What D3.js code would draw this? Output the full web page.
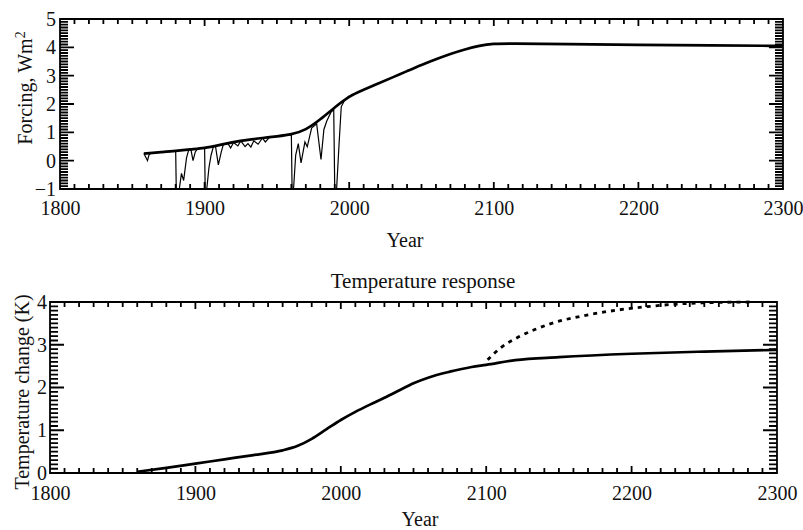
<!DOCTYPE html>
<html>
<head>
<meta charset="utf-8">
<script src="https://cdn.jsdelivr.net/npm/d3@7"></script>
<style>
  body { margin: 0; background: #fff; }
  svg text { font-family: "Liberation Serif", "DejaVu Serif", serif; fill: #111; }
</style>
</head>
<body>
<svg id="chart" width="803" height="530"></svg>
<script>
// tick labels
const xTickYears = [1800, 1900, 2000, 2100, 2200, 2300];
const forcingTicks = [-1, 0, 1, 2, 3, 4, 5];
const tempTicks = [0, 1, 2, 3, 4];

// radiative forcing, smooth total (W/m2)
const forcingYears = [1858, 1870, 1880, 1890, 1900, 1910, 1920, 1930, 1940, 1950, 1960, 1970, 1980, 1990, 2000,
  2010, 2020, 2030, 2040, 2050, 2060, 2070, 2080, 2090, 2100, 2110, 2150, 2200, 2250, 2300];
const forcingTotal = [0.25, 0.3, 0.34, 0.4, 0.44, 0.55, 0.66, 0.74, 0.8, 0.86, 0.92, 1.08, 1.45, 1.88, 2.28,
  2.5, 2.72, 2.94, 3.16, 3.38, 3.58, 3.77, 3.93, 4.06, 4.13, 4.14, 4.11, 4.09, 4.07, 4.05];

// forcing including volcanic eruptions (thin line)
const volcYears = [1858, 1859.5, 1860.5, 1861.5, 1863, 1870, 1880, 1880.4, 1882.5, 1884, 1885.5, 1887.5, 1889,
  1890.5, 1892, 1893.5, 1895, 1900, 1900.4, 1901.5, 1903, 1904.5, 1906, 1907.5, 1909.5, 1911.5, 1913, 1916,
  1918, 1920, 1923, 1925, 1928, 1930, 1932, 1934, 1937, 1940, 1942, 1945, 1950, 1955, 1960, 1960.5, 1961.5,
  1963, 1964.8, 1966.7, 1969.4, 1971, 1974, 1977.5, 1980.5, 1982.5, 1984.5, 1987.5, 1989.3, 1990, 1991.3,
  1993, 1994.5, 1997, 2000];
const volcForcing = [0.25, 0.1, 0.0, 0.2, 0.27, 0.3, 0.34, -1, -1, -0.45, -0.7, 0.1, 0.38,
  0.4, 0.0, 0.3, 0.42, 0.44, -1, -1, -0.25, 0.2, 0.48, 0.52, -0.15, 0.3, 0.58, 0.62,
  0.45, 0.64, 0.52, 0.7, 0.5, 0.6, 0.48, 0.7, 0.58, 0.8, 0.66, 0.83, 0.86, 0.88, 0.92, -1, -1,
  0.2, 0.6, -0.08, 0.66, 0.49, 1.15, 1.3, 0.04, 1.1, 1.4, 1.72, 1.8, -1, -1,
  0.6, 1.9, 2.15, 2.28];

// temperature response (K)
const tempYears = [1860, 1880, 1900, 1920, 1940, 1960, 1970, 1980, 1990, 2000, 2010, 2020, 2030, 2040, 2050,
  2060, 2075, 2090, 2100, 2120, 2150, 2200, 2250, 2300];
const tempChange = [0.03, 0.12, 0.22, 0.32, 0.42, 0.53, 0.63, 0.8, 1.02, 1.24, 1.43, 1.6, 1.76, 1.93, 2.1,
  2.23, 2.37, 2.48, 2.53, 2.64, 2.71, 2.79, 2.84, 2.88];

// equilibrium approach after 2100 (dashed)
const commitYears = [2101, 2110, 2121, 2133, 2144, 2167, 2190, 2213, 2235, 2259, 2282];
const commitTemp = [2.65, 2.93, 3.16, 3.35, 3.49, 3.68, 3.81, 3.9, 3.96, 3.99, 4.0];

const svg = d3.select("#chart");
const fontSize = 20;
const ink = "#000";

function drawPanel(p) {
  const x = d3.scaleLinear().domain([1800, 2300]).range([p.left, p.right]);
  const y = d3.scaleLinear().domain(p.domain).range([p.bottom, p.top]);
  const g = svg.append("g");

  const minorY = d3.range(p.domain[0], p.domain[1] + 0.001, 0.1).map(v => +v.toFixed(1));
  const decades = d3.range(1800, 2301, 10);

  // labels from d3 axes
  g.append("g")
    .attr("transform", `translate(0,${p.bottom})`)
    .call(d3.axisBottom(x).tickValues(xTickYears).tickSize(0).tickPadding(p.labelPad)
      .tickFormat(d3.format("d")));
  g.append("g")
    .attr("transform", `translate(${p.left},0)`)
    .call(d3.axisLeft(y).tickValues(p.ticks).tickSize(0).tickPadding(p.yPad)
      .tickFormat(d => d < 0 ? "\u2212" + Math.abs(d) : d));
  g.selectAll(".domain, .tick line").remove();
  g.selectAll(".tick text").attr("font-size", fontSize).attr("fill", "#111")
    .style("font-family", '"Liberation Serif", serif');

  // frame and all inward tick marks in one path
  const frame = d3.path();
  frame.rect(p.left, p.top, p.right - p.left, p.bottom - p.top);
  decades.forEach(d => {
    const len = d % 100 === 0 ? 7 : 5;
    frame.moveTo(x(d), p.bottom); frame.lineTo(x(d), p.bottom - len);
    frame.moveTo(x(d), p.top); frame.lineTo(x(d), p.top + len);
  });
  minorY.forEach(d => {
    const len = p.ticks.includes(d) ? 14 : 8;
    frame.moveTo(p.left, y(d)); frame.lineTo(p.left + len, y(d));
    frame.moveTo(p.right, y(d)); frame.lineTo(p.right - len, y(d));
  });
  g.append("path")
    .attr("d", frame.toString())
    .attr("fill", "none").attr("stroke", ink).attr("stroke-width", 1.8);

  return { g, x, y };
}

// ---- forcing panel ----
const forcingPanel = drawPanel({ left: 60, right: 783, top: 19, bottom: 189, domain: [-1, 5], ticks: forcingTicks, labelPad: 12, yPad: 4 });

forcingPanel.g.append("path")
  .datum(volcYears.map((yr, i) => [yr, volcForcing[i]]))
  .attr("fill", "none").attr("stroke", ink).attr("stroke-width", 1.2)
  .attr("d", d3.line().x(d => forcingPanel.x(d[0])).y(d => forcingPanel.y(d[1])));

forcingPanel.g.append("path")
  .datum(forcingYears.map((yr, i) => [yr, forcingTotal[i]]))
  .attr("fill", "none").attr("stroke", ink).attr("stroke-width", 2.7)
  .attr("d", d3.line().curve(d3.curveBasis).x(d => forcingPanel.x(d[0])).y(d => forcingPanel.y(d[1])));

const forcingLabel = svg.append("text")
  .attr("transform", "translate(32,88) rotate(-90)")
  .attr("text-anchor", "middle")
  .attr("font-size", fontSize);
forcingLabel.append("tspan").text("Forcing, Wm");
forcingLabel.append("tspan").attr("baseline-shift", "super").attr("font-size", 14).text("2");

svg.append("text")
  .attr("x", 405).attr("y", 247)
  .attr("text-anchor", "middle").attr("font-size", fontSize)
  .text("Year");

// ---- temperature panel ----
svg.append("text")
  .attr("x", 423).attr("y", 288)
  .attr("text-anchor", "middle").attr("font-size", fontSize + 1)
  .text("Temperature response");

const tempPanel = drawPanel({ left: 50, right: 777, top: 302, bottom: 473, domain: [0, 4], ticks: tempTicks, labelPad: 13, yPad: 3 });

tempPanel.g.append("path")
  .datum(tempYears.map((yr, i) => [yr, tempChange[i]]))
  .attr("fill", "none").attr("stroke", ink).attr("stroke-width", 2.7)
  .attr("d", d3.line().curve(d3.curveMonotoneX).x(d => tempPanel.x(d[0])).y(d => tempPanel.y(d[1])));

tempPanel.g.append("path")
  .datum(commitYears.map((yr, i) => [yr, commitTemp[i]]))
  .attr("fill", "none").attr("stroke", ink).attr("stroke-width", 2.8)
  .attr("stroke-dasharray", "4,5")
  .attr("d", d3.line().curve(d3.curveMonotoneX).x(d => tempPanel.x(d[0])).y(d => tempPanel.y(d[1])));

svg.append("text")
  .attr("transform", "translate(29,392) rotate(-90)")
  .attr("text-anchor", "middle").attr("font-size", fontSize)
  .text("Temperature change (K)");

svg.append("text")
  .attr("x", 420).attr("y", 526)
  .attr("text-anchor", "middle").attr("font-size", fontSize)
  .text("Year");
</script>
</body>
</html>
